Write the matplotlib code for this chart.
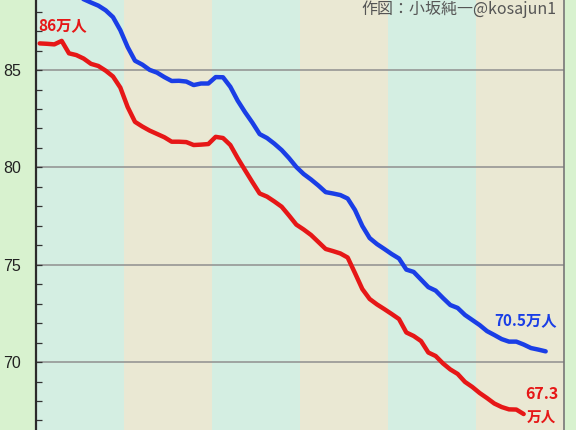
import numpy as np
import matplotlib
matplotlib.use("Agg")
import matplotlib.pyplot as plt

plt.rcParams['font.family'] = ['Noto Sans CJK JP', 'DejaVu Sans']

# monthly values (万人)
red_vals = [86.37, 86.35, 86.32, 86.50, 85.86, 85.77, 85.59, 85.32, 85.21, 84.97,
            84.67, 84.10, 83.10, 82.34, 82.10, 81.89, 81.72, 81.55, 81.32, 81.32,
            81.30, 81.15, 81.17, 81.20, 81.57, 81.51, 81.15, 80.48, 79.86, 79.25,
            78.66, 78.50, 78.25, 77.98, 77.53, 77.06, 76.81, 76.53, 76.17, 75.81,
            75.70, 75.58, 75.37, 74.57, 73.75, 73.24, 72.96, 72.72, 72.47, 72.21,
            71.52, 71.34, 71.08, 70.49, 70.31, 69.93, 69.62, 69.39, 68.98, 68.72,
            68.41, 68.15, 67.87, 67.69, 67.57, 67.56, 67.33]
blue_vals = [89.42, 89.40, 89.37, 89.55, 88.91, 88.82, 88.64, 88.47, 88.31, 88.07,
             87.72, 87.05, 86.18, 85.48, 85.28, 85.01, 84.87, 84.64, 84.44, 84.45,
             84.41, 84.23, 84.31, 84.31, 84.64, 84.63, 84.14, 83.43, 82.84, 82.30,
             81.71, 81.51, 81.22, 80.89, 80.48, 80.02, 79.66, 79.38, 79.07, 78.73,
             78.66, 78.58, 78.40, 77.81, 76.99, 76.37, 76.06, 75.81, 75.55, 75.32,
             74.75, 74.63, 74.24, 73.85, 73.67, 73.29, 72.93, 72.78, 72.42, 72.16,
             71.90, 71.59, 71.39, 71.18, 71.05, 71.05, 70.90, 70.72, 70.64, 70.55]
n_years = 6
yticks = [70, 75, 80, 85]

red_x = np.arange(len(red_vals)) + 0.5
blue_x = np.arange(len(blue_vals)) + 0.5

fig = plt.figure(figsize=(5.76, 4.30), dpi=100)
fig.patch.set_facecolor('#d8f2cf')
ax = fig.add_axes([36 / 576, 0, 528 / 576, 1])
ax.set_facecolor('#eae8d3')

# alternating yearly background bands
for k in range(n_years):
    col = '#d4eee2' if k % 2 == 0 else '#eae8d3'
    ax.axvspan(k * 12, (k + 1) * 12, color=col, lw=0, zorder=0)

for v in yticks:
    ax.axhline(v, color='#8f8f8f', lw=1.1, zorder=1)

ax.plot(blue_x, blue_vals, color='#1a3ee6', lw=3.2, solid_joinstyle='round',
        solid_capstyle='round', zorder=3)
ax.plot(red_x, red_vals, color='#e61717', lw=3.2, solid_joinstyle='round',
        solid_capstyle='round', zorder=3)

ax.set_xticks([])
ax.set_yticks(yticks)
ax.set_yticks(np.arange(66, 89, 1), minor=True)
ax.set_xlim(0, 72)
ax.set_ylim(66.51, 88.6)
ax.tick_params(axis='y', which='both', direction='in', length=4, width=0.9,
               color='#333333', pad=11)
ax.tick_params(axis='y', which='major', labelsize=11.5, labelcolor='#222222')
for lab in ax.get_yticklabels():
    lab.set_family(['Liberation Sans', 'DejaVu Sans'])

for s in ['top', 'bottom']:
    ax.spines[s].set_visible(False)
ax.spines['left'].set_color('#2b2b2b')
ax.spines['left'].set_linewidth(1.6)
ax.spines['right'].set_color('#777777')
ax.spines['right'].set_linewidth(1.2)

# annotations
ax.text(0.3, 87.3, '86万人', color='#e61717', fontsize=11, fontweight='bold',
        ha='left', va='center')
ax.text(62.5, 72.16, '70.5万人', color='#1a3ee6', fontsize=11, fontweight='bold',
        ha='left', va='center')
ax.text(71.2, 68.36, '67.3', color='#e61717', fontsize=11.5, fontweight='bold',
        ha='right', va='center')
ax.text(70.9, 67.18, '万人', color='#e61717', fontsize=10.5, fontweight='bold',
        ha='right', va='center')
ax.text(70.9, 88.57, '作図：小坂純一@kosajun1', color='#555555', fontsize=11.5,
        ha='right', va='top')

fig.savefig('out.png', dpi=100, facecolor=fig.get_facecolor())
